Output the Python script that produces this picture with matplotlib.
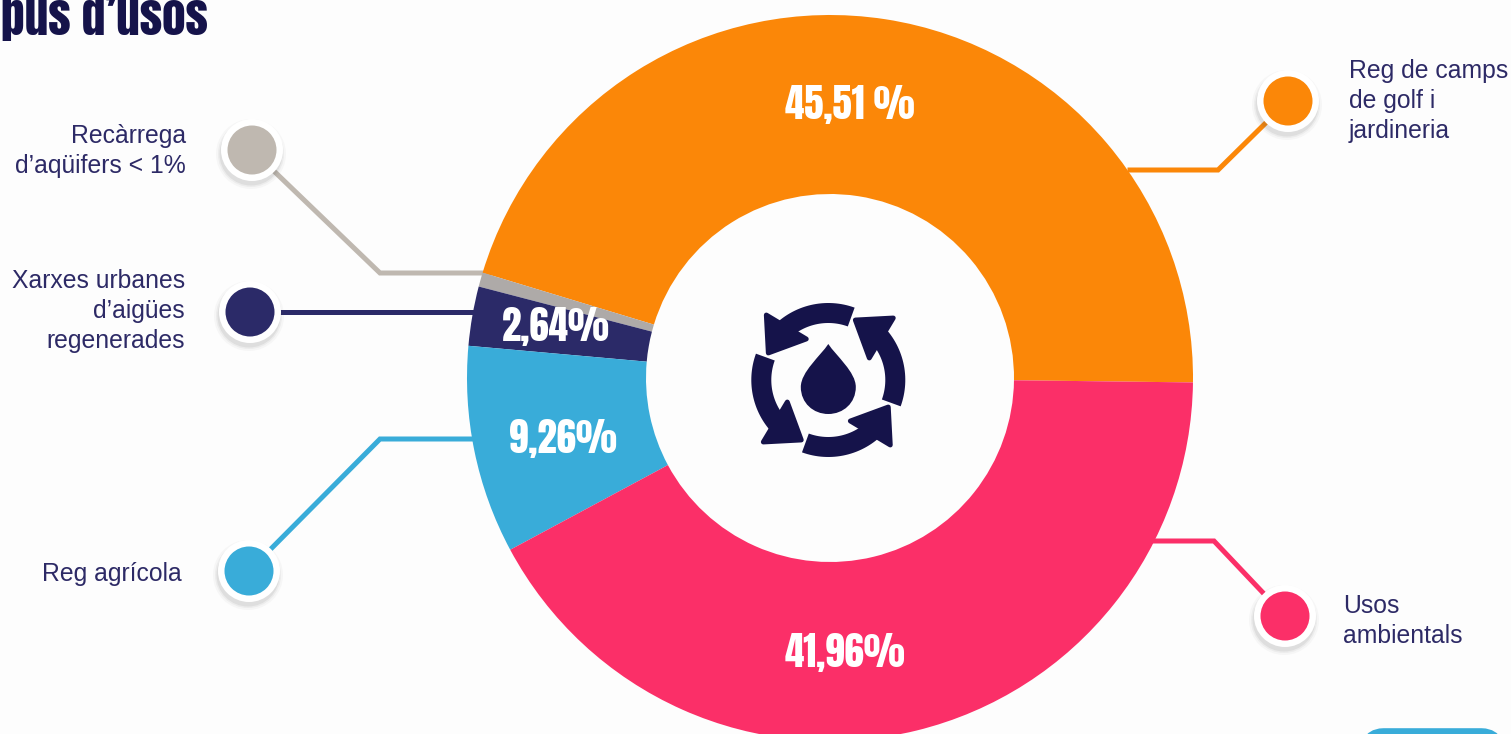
import numpy as np
import matplotlib
matplotlib.use('Agg')
import matplotlib.pyplot as plt
from matplotlib.patches import Circle, Polygon, PathPatch, FancyBboxPatch
from matplotlib.path import Path

# values, counter-clockwise from 3 o'clock
categories = ['Reg de camps\nde golf i\njardineria', "Recàrrega\nd’aqüifers < 1%",
              "Xarxes urbanes\nd’aigües\nregenerades", 'Reg agrícola', 'Usos\nambientals']
values = [45.51, 0.63, 2.64, 9.26, 41.96]
value_labels = ['45,51 %', None, '2,64%', '9,26%', '41,96%']
colors = ['#fb8708', '#aeaaa8', '#2b2a68', '#39acd9', '#fb2f68']
dot_colors = ['#fb8708', '#bfb8b0', '#2b2a68', '#39acd9', '#fb2f68']

NAVY = '#2d2a66'
ICON = '#15134a'
HEAVY = ['Anton', 'Barlow Condensed', 'DejaVu Sans']
CX, CY, R_OUT, R_IN = 830, 378, 363, 184

value_pos = [(850, 104), None, (556, 326), (563, 438), (845, 653)]
dots = [(1288, 101), (252, 150), (250, 312), (249, 571), (1285, 616)]
leaders = [
    [(1130, 170), (1218, 170), (1288, 101)],
    [(252, 150), (380, 273), (490, 273)],
    [(250, 312), (480, 312)],
    [(249, 571), (380, 439), (480, 439)],
    [(1150, 541), (1214, 541), (1285, 616)],
]
label_pos = [(1349, 101, 'left'), (186, 151, 'right'), (185, 311, 'right'),
             (182, 574, 'right'), (1343, 621, 'left')]

fig = plt.figure(figsize=(15.11, 7.34), dpi=100, facecolor='#fdfdfd')
ax = fig.add_axes([0, 0, 1, 1])

# y axis runs downwards so everything is in picture pixels
ax.pie(values, colors=colors, center=(CX, CY), radius=R_OUT, startangle=0.7, counterclock=False,
       wedgeprops={'width': R_OUT - R_IN, 'linewidth': 0, 'zorder': 3})
ax.set_xlim(0, 1511)
ax.set_ylim(734, 0)
ax.set_aspect('equal')
ax.axis('off')

for i, pos in enumerate(value_pos):
    if pos is not None:
        ax.text(pos[0], pos[1], value_labels[i], color='white', fontsize=28,
                family=HEAVY, ha='center', va='center', zorder=5)

for i, line in enumerate(leaders):
    xs, ys = zip(*line)
    ax.plot(xs, ys, color=dot_colors[i], lw=3.6, solid_joinstyle='miter', zorder=1)

for i, (x, y) in enumerate(dots):
    # soft shadow below the white ring
    for r, a in [(35, 0.04), (33, 0.06), (31.5, 0.09)]:
        ax.add_patch(Circle((x - 1, y + 4), r, color='#555555', alpha=a, lw=0, zorder=6))
    ax.add_patch(Circle((x, y), 31, color='white', lw=0, zorder=7))
    ax.add_patch(Circle((x, y), 24.5, color=dot_colors[i], lw=0, zorder=8))

for i, (x, y, ha) in enumerate(label_pos):
    ax.text(x, y, categories[i], color=NAVY, fontsize=17.8, family='Liberation Sans', ha=ha, va='center',
            linespacing=1.31, zorder=5)

# heading cut by the top edge of the page
ax.text(1, 35, 'pus d’usos', color=ICON, fontsize=34, family=HEAVY, ha='left', va='baseline', zorder=5)

# corner of the blue box at the bottom right
ax.add_patch(FancyBboxPatch((1372, 740), 121, 30, boxstyle='round,pad=0,rounding_size=12',
                            mutation_aspect=1, fc='#39acd9', ec='#39acd9', lw=17, zorder=2))

# recycling icon in the hole
ix, iy = 828.3, 380
def arrow_poly(rot):
    a = np.radians(np.linspace(70, 130, 30) + rot)
    outer = np.c_[ix + 77 * np.cos(a), iy - 77 * np.sin(a)]
    inner = np.c_[ix + 57 * np.cos(a), iy - 57 * np.sin(a)][::-1]
    t = np.radians(rot)
    head = np.array([(-62, 65), (-60, 27), (-22, 41)])
    hx = head[:, 0] * np.cos(t) - head[:, 1] * np.sin(t)
    hy = head[:, 0] * np.sin(t) + head[:, 1] * np.cos(t)
    return np.r_[outer, inner], np.c_[ix + hx, iy - hy]

for rot in [0, 90, 180, 270]:
    arc, head = arrow_poly(rot)
    ax.add_patch(Polygon(arc, closed=True, fc=ICON, ec='none', zorder=4))
    ax.add_patch(Polygon(head, closed=True, fc=ICON, ec=ICON, lw=3.5, joinstyle='round', zorder=4))

drop = Path([(ix, 344), (ix + 8, 356), (ix + 27.5, 372), (ix + 27.5, 387),
             (ix + 27.5, 403), (ix + 15, 414), (ix, 414),
             (ix - 15, 414), (ix - 27.5, 403), (ix - 27.5, 387),
             (ix - 27.5, 372), (ix - 8, 356), (ix, 344)],
            [Path.MOVETO] + [Path.CURVE4] * 12)
ax.add_patch(PathPatch(drop, fc=ICON, ec='none', zorder=4))

fig.savefig('out.png', dpi=100, facecolor=fig.get_facecolor())
